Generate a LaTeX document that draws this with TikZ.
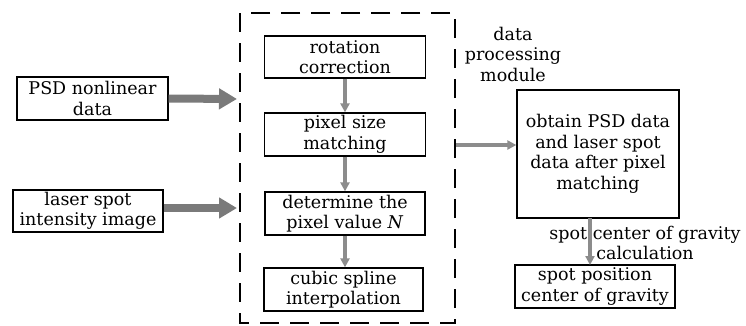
\documentclass[tikz,border=0pt]{standalone}
\usepackage{fontspec}
\setmainfont{DejaVu Serif}
\usetikzlibrary{arrows.meta}
\begin{document}
\begin{tikzpicture}[x=1pt,y=-1pt,
  box/.style={draw=black,line width=1.3pt,align=center,inner sep=0pt,font=\fontsize{17.5}{20.5}\selectfont},
  lbl/.style={align=center,inner sep=0pt,font=\fontsize{17.5}{20.5}\selectfont},
  bigarrow/.style={draw=black!52,line width=8pt,-{Triangle[width=20pt,length=18pt]},shorten >=3pt},
  smallarrow/.style={draw=black!45,line width=3.5pt,-{Triangle[width=9pt,length=9pt]}}]
\useasboundingbox (0,0) rectangle (746,325);
% dashed module
\draw[line width=2.8pt,dash pattern=on 19pt off 11pt] (240,13) rectangle (455,323);
\coordinate (dL1) at (240,99);
\coordinate (dL2) at (240,208);
\coordinate (dR) at (456,145);
% inputs
\node[box,minimum width=151pt,minimum height=43pt] (psd) at (92.5,98.5) {PSD nonlinear\\data};
\node[box,minimum width=150pt,minimum height=42pt] (laser) at (88,211) {laser spot\\intensity image};
% inner boxes
\node[box,minimum width=161pt,minimum height=42pt] (rot) at (345,57) {rotation\\correction};
\node[box,minimum width=161pt,minimum height=43pt] (pix) at (345,134.5) {pixel size\\matching};
\node[box,minimum width=160pt,minimum height=43pt] (det) at (345,213.5) {determine the\\pixel value \textit{N}};
\node[box,minimum width=159pt,minimum height=43pt] (cub) at (343.5,289.5) {cubic spline\\interpolation};
% right side
\node[lbl] (dpm) at (513,54) {data\\processing\\module};
\node[box,minimum width=162pt,minimum height=128pt] (obt) at (598,154) {obtain PSD data\\and laser spot\\data after pixel\\matching};
\node[box,minimum width=160pt,minimum height=43pt] (spot) at (595,286.5) {spot position\\center of gravity};
\node[lbl] (calc) at (645,243) {spot center of gravity\\calculation};
% arrows
\draw[bigarrow] (psd.east) -- (dL1);
\draw[bigarrow] (laser.east |- dL2) -- (dL2);
\draw[smallarrow] (rot.south) -- (pix.north);
\draw[smallarrow] (pix.south) -- (det.north);
\draw[smallarrow] (det.south) -- (det.south |- cub.north);
\draw[smallarrow] (dR) -- (obt.west |- dR);
\draw[smallarrow] (590,218) -- (590,265);
\end{tikzpicture}
\end{document}
